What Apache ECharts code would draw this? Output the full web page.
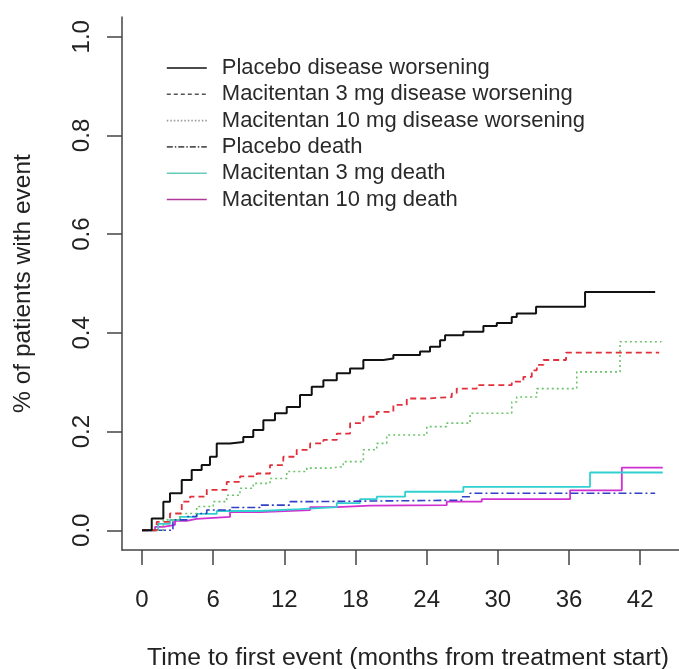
<!DOCTYPE html>
<html>
<head>
<meta charset="utf-8">
<script src="https://cdn.jsdelivr.net/npm/echarts@6/dist/echarts.min.js"></script>
<style>html,body{margin:0;padding:0;background:#fff;}#chart{width:679px;height:669px;}</style>
</head>
<body>
<div id="chart"></div>
<script>
// ---- data (months, cumulative proportion with event) ----
const seriesNames = [
  'Placebo disease worsening',
  'Macitentan 3 mg disease worsening',
  'Macitentan 10 mg disease worsening',
  'Placebo death',
  'Macitentan 3 mg death',
  'Macitentan 10 mg death'
];
const xTicks = [0, 6, 12, 18, 24, 30, 36, 42];
const yTicks = [0, 0.2, 0.4, 0.6, 0.8, 1.0];

const placeboDW_t = [0, 0.82, 1.80, 2.36, 3.35, 4.19, 5.03, 5.73, 6.30, 7.42, 8.54, 9.38, 10.23, 11.21, 12.20, 13.32, 14.31, 15.29, 16.42, 17.54, 18.66, 20.35, 21.19, 23.44, 24.28, 25.13, 25.55, 27.09, 28.78, 29.91, 31.17, 31.59, 33.22, 37.35, 43.26];
const placeboDW_v = [0, 0.024, 0.058, 0.075, 0.102, 0.122, 0.132, 0.149, 0.176, 0.179, 0.189, 0.203, 0.223, 0.237, 0.250, 0.274, 0.291, 0.304, 0.318, 0.328, 0.345, 0.348, 0.355, 0.362, 0.372, 0.385, 0.395, 0.402, 0.414, 0.420, 0.432, 0.439, 0.453, 0.483, 0.483];

const mac3DW_t = [0, 1.24, 2.36, 3.35, 4.05, 5.46, 7.14, 8.26, 9.67, 10.79, 11.91, 13.04, 14.17, 15.29, 16.42, 17.54, 18.66, 19.79, 21.19, 22.32, 24.01, 26.11, 26.53, 28.22, 31.17, 32.15, 32.86, 33.28, 33.84, 35.75, 43.6];
const mac3DW_v = [0, 0.017, 0.034, 0.058, 0.068, 0.082, 0.098, 0.109, 0.115, 0.132, 0.149, 0.163, 0.176, 0.183, 0.196, 0.217, 0.230, 0.240, 0.254, 0.267, 0.270, 0.277, 0.287, 0.294, 0.301, 0.311, 0.324, 0.335, 0.345, 0.360, 0.360];

const mac10DW_t = [0, 1.80, 3.20, 4.61, 6.01, 7.14, 8.26, 9.38, 10.79, 12.20, 13.89, 15.85, 16.97, 18.66, 19.79, 20.63, 24.01, 25.69, 27.66, 31.17, 31.59, 33.28, 36.65, 40.30, 43.8];
const mac10DW_v = [0, 0.021, 0.034, 0.048, 0.058, 0.071, 0.085, 0.095, 0.105, 0.119, 0.126, 0.129, 0.139, 0.163, 0.176, 0.193, 0.210, 0.217, 0.237, 0.260, 0.270, 0.287, 0.321, 0.382, 0.382];

const placeboD_t = [0, 2.61, 3.77, 4.61, 5.46, 7.42, 9.95, 12.48, 14.42, 26.96, 27.66, 43.26];
const placeboD_v = [0, 0.021, 0.028, 0.034, 0.041, 0.046, 0.051, 0.058, 0.061, 0.068, 0.075, 0.075];

const mac3D_t = [0, 1.35, 2.36, 3.20, 4.61, 6.30, 9.95, 13.32, 16.42, 18.38, 19.79, 22.18, 27.09, 37.77, 43.9];
const mac3D_v = [0, 0.013, 0.021, 0.027, 0.033, 0.039, 0.043, 0.047, 0.055, 0.063, 0.068, 0.078, 0.088, 0.117, 0.117];

const mac10D_t = [0, 1.10, 1.80, 2.78, 3.77, 4.61, 7.42, 9.95, 14.17, 16.42, 19.22, 25.69, 28.64, 36.09, 40.45, 43.9];
const mac10D_v = [0, 0.007, 0.011, 0.019, 0.023, 0.027, 0.037, 0.041, 0.047, 0.050, 0.051, 0.058, 0.063, 0.081, 0.127, 0.127];

const seriesTimes = [placeboDW_t, mac3DW_t, mac10DW_t, placeboD_t, mac3D_t, mac10D_t];
const seriesValues = [placeboDW_v, mac3DW_v, mac10DW_v, placeboD_v, mac3D_v, mac10D_v];

// ---- styles ----
const lineColors = ['#111111', '#e0303c', '#6cc46c', '#3040c8', '#30d0d0', '#d030d0'];
const lineTypes = ['solid', [6, 4], [2, 3], [8, 3, 2, 3], 'solid', 'solid'];
const lineWidths = [2, 1.8, 1.6, 1.6, 1.8, 1.8];
const legendColors = ['#111111', '#555555', '#999999', '#555555', '#66ccb8', '#b03898'];
const legendTypes = ['solid', [4, 3], [1.5, 2], [6, 2, 1.5, 2], 'solid', 'solid'];

const FONT = '"Liberation Sans", Arial, sans-serif';
const chart = echarts.init(document.getElementById('chart'), null, {renderer: 'canvas'});

const series = seriesNames.map((name, i) => ({
  name: name,
  type: 'line',
  step: 'end',
  symbol: 'none',
  showSymbol: false,
  data: seriesTimes[i].map((t, j) => [t, seriesValues[i][j]]),
  lineStyle: {color: lineColors[i], type: lineTypes[i], width: lineWidths[i]},
  itemStyle: {color: lineColors[i]},
  animation: false,
  z: 10 - i
}));

chart.setOption({
  backgroundColor: '#ffffff',
  animation: false,
  grid: {left: 122, right: 0, top: 17, bottom: 119, containLabel: false, outerBoundsMode: 'none'},
  legend: {
    orient: 'vertical',
    left: 161,
    top: 52,
    itemWidth: 40,
    itemHeight: 14,
    itemGap: 4.3,
    data: seriesNames.map((n, i) => ({
      name: n,
      lineStyle: {color: legendColors[i], type: legendTypes[i], width: 1.6},
      itemStyle: {color: legendColors[i], opacity: 0, borderWidth: 0}
    })),
    textStyle: {fontFamily: FONT, fontSize: 22, color: '#2a2a2a', lineHeight: 22, padding: [0, 0, 0, 10]},
    selectedMode: false
  },
  xAxis: {
    type: 'value',
    min: -1.686,
    max: 45.27,
    name: 'Time to first event (months from treatment start)',
    nameLocation: 'middle',
    nameGap: 96,
    nameTextStyle: {fontFamily: FONT, fontSize: 24.7, color: '#222', padding: [0, 0, 0, 15]},
    axisLine: {show: true, onZero: false, lineStyle: {color: '#444', width: 1.5}},
    axisTick: {show: true, inside: false, length: 15, customValues: xTicks, lineStyle: {color: '#444', width: 1.5}},
    axisLabel: {customValues: xTicks, margin: 38, fontFamily: FONT, fontSize: 24, color: '#222'},
    splitLine: {show: false}
  },
  yAxis: {
    type: 'value',
    min: -0.04,
    max: 1.04,
    name: '% of patients with event',
    nameLocation: 'middle',
    nameGap: 86,
    nameTextStyle: {fontFamily: FONT, fontSize: 24.5, color: '#222'},
    axisLine: {show: true, onZero: false, lineStyle: {color: '#444', width: 1.5}},
    axisTick: {show: true, inside: false, length: 15, customValues: yTicks, lineStyle: {color: '#444', width: 1.5}},
    axisLabel: {customValues: yTicks, rotate: 90, margin: 28, fontFamily: FONT, fontSize: 24, color: '#222',
      formatter: v => v.toFixed(1)},
    splitLine: {show: false}
  },
  series: series
});
</script>
</body>
</html>
